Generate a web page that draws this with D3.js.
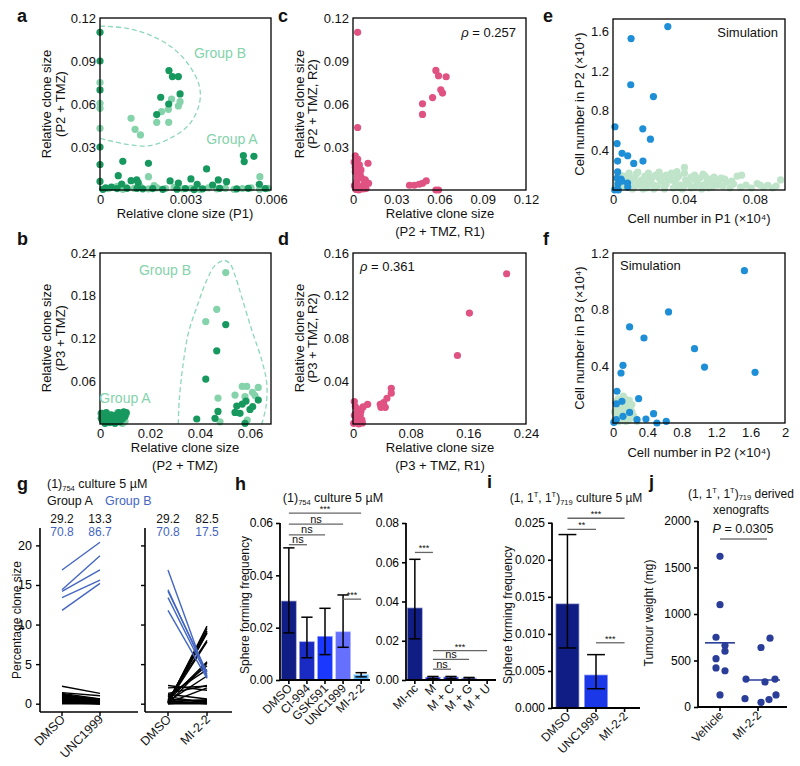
<!DOCTYPE html>
<html><head><meta charset="utf-8">
<script src="https://cdn.jsdelivr.net/npm/d3@7"></script>
<style>body{margin:0;background:#fff}svg{display:block;font-family:"Liberation Sans",Arial,sans-serif}</style>
</head><body><svg id="c" width="800" height="766"></svg>
<script>
// ---------------- DATA ----------------
// panel a (x: relative clone size P1, y: P2+TMZ)
const aDark = [[0,0.110],[0,0.0698],[0,0.0178],[0,0.006],[0,0.030],[0,0.090],
 [0.00242,0.0833],[0.00254,0.0791],[0.00275,0.0791],[0.00281,0.0670],[0.00213,0.0647],[0.00241,0.0600],[0.00199,0.0526],
 [0.00080,0.0200],[0.00170,0.0186],[0.00374,0.0147],[0.00503,0.0240],[0.00540,0.0235],[0.00506,0.0198],[0.00064,0.0100],
 [0.00109,0.0065],[0.00129,0.0070],[0.00134,0.0051],[0.00076,0.0042],[0.00246,0.0063],[0.00275,0.0049],[0.00319,0.0077],
 [0.00341,0.0040],[0.00395,0.0035],[0.00415,0.0070],[0.00444,0.0058],[0.00559,0.0040],[0.0002,0.0015],[0.0006,0.0010],
 [0.00095,0.0012],[0.0015,0.0008],[0.00185,0.0010],[0.0022,0.0005],[0.0030,0.0010],[0.0036,0.0008],[0.0042,0.0012],
 [0.0048,0.0008],[0.0052,0.0012],[0.0058,0.0010],[0.0001,0.0005],[0.0004,0.0020],[0.0013,0.0012],[0.0027,0.0006],[0.0033,0.0003]];
const aLight = [[0,0.0605],[0,0.057],[0,0.043],[0,0.075],
 [0.00251,0.0635],[0.00281,0.0616],[0.00275,0.0586],[0.00216,0.0547],[0.00240,0.0563],[0.00199,0.0472],[0.00241,0.0472],
 [0.00109,0.0500],[0.00123,0.0423],[0.00142,0.0384],[0.0017,0.0093],[0.00561,0.0093],
 [0.0003,0.0010],[0.0006,0.0025],[0.0009,0.0020],[0.0012,0.0012],[0.0014,0.0028],[0.0017,0.0008],[0.0020,0.0015],
 [0.0023,0.0010],[0.0026,0.0018],[0.0029,0.0008],[0.0032,0.0012],[0.0035,0.0005],[0.0038,0.0015],[0.0041,0.0008],
 [0.0044,0.0012],[0.0047,0.0005],[0.0050,0.0010],[0.0053,0.0015],[0.0056,0.0006],[0.0059,0.0012],[0.0008,0.0005],[0.0019,0.0030]];
const aOutline = [[0,0.1144],[0.00094,0.1128],[0.00175,0.1081],[0.00257,0.0988],[0.00316,0.086],[0.00349,0.0721],
 [0.00349,0.0605],[0.00316,0.0465],[0.00257,0.0372],[0.00175,0.0309],[0.00094,0.0319],[0.00023,0.0349],[0,0.036]];
// panel b (x: P2+TMZ, y: P3+TMZ)
const bLight = [[0.0503,0.2125],[0.0467,0.161],[0.0423,0.1438],[0.0472,0.0364],[0.0569,0.0528],[0.0587,0.0528],[0.0633,0.0514],
 [0.0610,0.0444],[0.0540,0.0406],[0.0580,0.0383],[0.0620,0.0400],[0.0589,0.0056],[0.0480,0.0030],
 [0.002,0.008],[0.004,0.012],[0.006,0.005],[0.008,0.010],[0.010,0.004],[0.0105,0.014],[0.001,0.015],[0.003,0.002],[0.007,0.016],[0.009,0.001]];
const bDark = [[0.0503,0.1396],[0.0467,0.1027],[0.0423,0.063],[0.0472,0.0177],[0.046,0.008],[0.0387,0.007],[0.0584,0.0322],
 [0.0569,0.028],[0.0547,0.0252],[0.0633,0.0336],[0.0611,0.0243],[0.0600,0.0205],[0.0540,0.0163],[0.0560,0.0150],[0.0580,0.0010],
 [0.0005,0.015],[0.0015,0.012],[0.0025,0.016],[0.0035,0.010],[0.0045,0.013],[0.0055,0.008],[0.0065,0.012],[0.0075,0.016],
 [0.0085,0.013],[0.0095,0.017],[0.0100,0.011],[0.001,0.005],[0.003,0.007],[0.005,0.004],[0.007,0.006],[0.002,0.001],
 [0.004,0.002],[0.006,0.001],[0.008,0.003],[0.0005,0.008],[0.009,0.007],[0.0105,0.016]];
const bOutline = [[0.0313,0],[0.0317,0.0336],[0.0331,0.080],[0.0353,0.127],[0.0387,0.164],[0.0427,0.2018],[0.046,0.2226],
 [0.0496,0.2296],[0.052,0.225],[0.054,0.2086],[0.0567,0.178],[0.0607,0.132],[0.0647,0.0896],[0.0667,0.057],[0.0664,0.0243],[0.0647,0]];
// panel c
const cPts = [[0.0032,0.110],[0.0032,0.0436],[0.0482,0.0601],[0.0482,0.0527],[0.0552,0.0645],[0.0575,0.0834],[0.0593,0.0797],
 [0.0646,0.079],[0.0609,0.0699],[0.0621,0.0676],[0.0392,0.0033],[0.0425,0.0033],[0.0459,0.004],[0.0482,0.0047],[0.0508,0.0063],
 [0.0575,0],[0.0593,0],[0.0016,0.0238],[0.0032,0.0215],[0.0044,0.0175],[0.0104,0.0186],[0.0016,0.0128],[0.0050,0.0105],
 [0.0062,0.0082],[0.0085,0.0070],[0.0108,0.0047],[0.0025,0.0058],[0.0045,0.0023],[0.0070,0.0007],[0.0010,0.0030],
 [0.0030,0.0090],[0.0008,0.0195],[0.0055,0.0140],[0.0075,0.0040],[0.0020,0.0005],[0.0040,0.0000],[0.0090,0.0010],[0.0015,0.0160]];
// panel d
const dPts = [[0.2132,0.1406],[0.1615,0.1038],[0.1449,0.0641],[0.0531,0.0334],[0.0531,0.0288],[0.0471,0.0241],[0.0425,0.0200],
 [0.0378,0.0184],[0.0448,0.0156],[0.0388,0.0156],[0.0203,0.0184],[0.0018,0.0210],[0.0032,0.0163],[0.0078,0.0131],
 [0.0101,0.0084],[0.0046,0.0053],[0.0065,0.0022],[0.0124,0.0038],[0.0009,0.0006],[0.0040,0.0100],[0.0110,0.0120],
 [0.0140,0.0160],[0.0060,0.0140],[0.0020,0.0080],[0.0130,0.0010],[0.0080,0.0000]];
// panel e (simulation)
const eGreen = [[0.001,0.02],[0.003,0.05],[0.005,0.10],[0.006,0.14],[0.008,0.03],[0.010,0.08],[0.012,0.12],[0.013,0.16],
 [0.015,0.05],[0.016,0.10],[0.018,0.14],[0.019,0.02],[0.021,0.07],[0.022,0.12],[0.024,0.15],[0.025,0.04],[0.027,0.09],
 [0.028,0.13],[0.030,0.06],[0.031,0.11],[0.032,0.15],[0.034,0.02],[0.035,0.08],[0.036,0.12],[0.0361,0.187],[0.038,0.05],
 [0.0403,0.228],[0.0403,0.17],[0.041,0.10],[0.043,0.06],[0.044,0.13],[0.046,0.03],[0.047,0.09],[0.049,0.12],[0.0508,0.16],
 [0.051,0.05],[0.053,0.08],[0.055,0.11],[0.056,0.03],[0.058,0.07],[0.060,0.10],[0.062,0.04],[0.064,0.08],[0.066,0.02],
 [0.068,0.06],[0.0725,0.15],[0.070,0.14],[0.075,0.05],[0.0813,0.065],[0.0873,0.048],[0.0945,0.102],[0.085,0.03],[0.090,0.02],
 [0.004,0.15],[0.009,0.17],[0.014,0.18],[0.020,0.17],[0.026,0.18],[0.033,0.17],[0.002,0.09],[0.007,0.06],[0.011,0.01],
 [0.017,0.01],[0.023,0.01],[0.029,0.01],[0.039,0.01],[0.045,0.12],[0.052,0.14],[0.057,0.13],[0.061,0.12],[0.044,0.02],[0.050,0.01],
 [0.009,0.11],[0.014,0.07],[0.017,0.04],[0.020,0.10],[0.023,0.05],[0.026,0.12],[0.029,0.03],[0.033,0.10],[0.037,0.14],
 [0.040,0.04],[0.042,0.08],[0.048,0.06],[0.054,0.02],[0.059,0.05],[0.063,0.11],[0.067,0.09],[0.072,0.03],[0.078,0.02],
 [0.083,0.05],[0.092,0.04],[0.006,0.04],[0.012,0.03],[0.018,0.08],[0.030,0.15],[0.036,0.03],[0.046,0.15],[0.055,0.06]];
const eBlue = [[0.0309,1.651],[0.0102,1.529],[0.0100,1.063],[0.0228,0.944],[0.0011,0.639],[0.0168,0.618],[0.0211,0.513],
 [0.0023,0.469],[0.0051,0.370],[0.0083,0.346],[0.0026,0.292],[0.0169,0.292],[0.0117,0.268],[0.0026,0.183],[0.0023,0.12],
 [0.0045,0.11],[0.0028,0.06],[0.0082,0.07],[0.0083,0.03],[0.001,0.0],[0.003,0.0],[0.005,0.09]];
// panel f (simulation)
const fGreen = [[0.02,0.02],[0.05,0.05],[0.08,0.10],[0.10,0.16],[0.12,0.19],[0.14,0.17],[0.16,0.14],[0.18,0.12],[0.20,0.10],
 [0.22,0.08],[0.24,0.05],[0.26,0.03],[0.28,0.01],[0.04,0.12],[0.06,0.08],[0.08,0.03],[0.10,0.06],[0.12,0.10],[0.14,0.08],
 [0.16,0.04],[0.18,0.02],[0.20,0.05],[0.02,0.08],[0.03,0.15],[0.06,0.17],[0.09,0.13],[0.13,0.13],[0.15,0.01],[0.11,0.02],
 [0.07,0.01],[0.04,0.01],[0.22,0.13],[0.19,0.16]];
const fBlue = [[1.528,1.075],[1.652,0.358],[1.064,0.395],[0.948,0.525],[0.646,0.784],[0.193,0.678],[0.36,0.6],[0.116,0.407],
 [0.093,0.353],[0.046,0.224],[0.039,0.136],[0.104,0.153],[0.298,0.172],[0.193,0.075],[0.472,0.066],[0.116,0.047],
 [0.279,0.024],[0.383,0.028],[0.619,0.012],[0.511,0],[0.039,0.024],[0.01,0.005]];
// panel g (percentage clone size)
const gBlueDMSO = [16.9,14.4,14.2,13.4,11.8];
const gBlueUNC  = [20.4,18.7,16.9,15.6,15.2];
const gBlueMI   = [3.3,3.7,4.0,3.5,3.2];
const gBlackDMSO_L = [2.2,1.4,1.3,1.2,1.1,1.0,0.9,0.8,0.7,0.6,0.5,0.4,0.3,0.2,0.1,0.05,0.0,1.0,0.8,0.6,0.3];
const gBlackUNC    = [1.3,1.0,0.6,0.4,0.3,0.5,0.2,0.3,0.1,0.2,0.1,0.0,0.1,0.0,0.0,0.05,0.0,0.6,0.4,0.3,0.2];
const gBlackDMSO_R = [0.1,0.2,0.3,0.1,0.5,0.2,0.4,0.0,0.8,1.0,0.3,1.3,2.3,0.1,1.2,0.0,0.6,0.1,0.3,2.0,0.2,0.9,0.0,0.5,0.05];
const gBlackMI     = [9.8,9.5,9.2,8.9,8.0,7.8,5.3,5.1,4.8,4.3,3.5,2.3,1.7,2.0,0.6,0.3,0.2,0.1,0.0,2.2,0.5,0.1,0.0,0.4,9.0];
const gPctA = {left:["29.2","13.3"], right:["29.2","82.5"]};
const gPctB = {left:["70.8","86.7"], right:["70.8","17.5"]};
const gYTicks = [0,5,10,15,20];
// panel h
const hCats1 = ["DMSO","CI-994","GSK591","UNC1999","MI-2-2"];
const hVals1 = [0.0300,0.0145,0.0165,0.0183,0.0019];
const hLo1   = [0.0180,0.0085,0.0097,0.0125,0.0012];
const hHi1   = [0.0505,0.0240,0.0274,0.0325,0.0028];
const hCol1  = ["#0f1d85","#1a2bc4","#1b38ff","#6670ff","#5cb5ff"];
const hBr1 = [["DMSO","CI-994",0.0517,"ns"],["DMSO","GSK591",0.0555,"ns"],["DMSO","UNC1999",0.0596,"ns"],["DMSO","MI-2-2",0.0638,"***"],["UNC1999","MI-2-2",0.0309,"***"]];
const hCats2 = ["MI-nc","M","M + C","M + G","M + U"];
const hVals2 = [0.0365,0.0012,0.0013,0.0008,0];
const hLo2   = [0.0210,0.0008,0.0008,0.0004,0];
const hHi2   = [0.0615,0.0018,0.0018,0.0013,0];
const hCol2  = ["#0f1d85","#1b38ff","#1f3cf0","#6670ff","#6670ff"];
const hBr2 = [["MI-nc","M",0.065,"***"],["M","M + C",0.0055,"ns"],["M","M + G",0.0105,"ns"],["M","M + U",0.0150,"***"]];
// panel i
const iCats = ["DMSO","UNC1999","MI-2-2"];
const iVals = [0.0140,0.0044,0];
const iLo   = [0.0081,0.0026,0];
const iHi   = [0.0234,0.0072,0];
const iCol  = ["#0f1d85","#1b38e8","#1b38e8"];
const iBr = [["DMSO","UNC1999",0.0241,"**"],["DMSO","MI-2-2",0.0256,"***"],["UNC1999","MI-2-2",0.0088,"***"]];
// panel j
const jCats = ["Vehicle","MI-2-2"];
const jVehicle = [1620,1100,750,660,600,520,420,390,130];
const jMI = [740,640,300,300,270,130,90,80,50];
const jMeans = [690,290];

// ---------------- DRAW ----------------
const FONT = '"Liberation Sans", Arial, sans-serif';
const svg = d3.select('#c');
svg.append('rect').attr('width',800).attr('height',766).attr('fill','#fff');
const DG = "#17985e", LG = "#84d3aa", PINK = "#df5282", SB = "#1e8fd6", PG = "#bfe4ca";

function txt(x,y,s,o={}){
  const t = svg.append('text').attr('x',x).attr('y',y).attr('font-size',o.size||13)
    .attr('fill',o.color||'#111').attr('text-anchor',o.anchor||'start').text(s);
  if(o.bold) t.attr('font-weight','bold');
  if(o.rot) t.attr('transform',`rotate(${o.rot},${x},${y})`);
  return t;
}

function scatter(o){
  const x = d3.scaleLinear().domain(o.xd).range([o.L,o.R]);
  const y = d3.scaleLinear().domain(o.yd).range([o.B,o.T]);
  const g = svg.append('g');
  if(o.shape){
    g.append('path').attr('d', d3.line().x(d=>x(d[0])).y(d=>y(d[1])).curve(d3.curveCatmullRom)(o.shape))
     .attr('fill','none').attr('stroke',"#8dd8b8").attr('stroke-width',1.3).attr('stroke-dasharray','5,3');
  }
  o.series.forEach(s=>{
    g.append('g').selectAll('circle').data(s.data).join('circle')
     .attr('cx',d=>x(d[0])).attr('cy',d=>y(d[1])).attr('r',o.rad||3.6).attr('fill',s.color);
  });
  g.append('rect').attr('x',o.L).attr('y',o.T).attr('width',o.R-o.L).attr('height',o.B-o.T)
   .attr('fill','none').attr('stroke','#000').attr('stroke-width',1.3);
  const xa = g.append('g').attr('transform',`translate(0,${o.B})`)
   .call(d3.axisBottom(x).tickValues(o.xt).tickSize(0).tickPadding(5).tickFormat(d=>String(d)));
  const ya = g.append('g').attr('transform',`translate(${o.L},0)`)
   .call(d3.axisLeft(y).tickValues(o.yt).tickSize(0).tickPadding(4).tickFormat(d=>String(d)));
  [xa,ya].forEach(a=>{a.select('.domain').remove(); a.attr('font-size',13).attr('font-family',FONT); a.selectAll('text').attr('fill','#111');});
  return {x,y};
}

// a
scatter({L:100,R:271,T:18,B:190,xd:[0,0.006],yd:[0,0.12],xt:[0,0.003,0.006],yt:[0.03,0.06,0.09,0.12],
  shape:aOutline,series:[{data:aLight,color:LG},{data:aDark,color:DG}]});
txt(51,104,"Relative clone size",{anchor:'middle',rot:-90});
txt(65,104,"(P2 + TMZ)",{anchor:'middle',rot:-90});
txt(185,218,"Relative clone size (P1)",{anchor:'middle'});
txt(220,58,"Group B",{anchor:'middle',color:LG,size:14});
txt(232,144,"Group A",{anchor:'middle',color:LG,size:14});
// b
scatter({L:100,R:271,T:253,B:424,xd:[0,0.0684],yd:[0,0.24],xt:[0,0.02,0.04,0.06],yt:[0.06,0.12,0.18,0.24],
  shape:bOutline,series:[{data:bLight,color:LG},{data:bDark,color:DG}]});
txt(51,338,"Relative clone size",{anchor:'middle',rot:-90});
txt(65,338,"(P3 + TMZ)",{anchor:'middle',rot:-90});
txt(185,452,"Relative clone size",{anchor:'middle'});
txt(185,470,"(P2 + TMZ)",{anchor:'middle'});
txt(165,275,"Group B",{anchor:'middle',color:LG,size:14});
txt(125,403,"Group A",{anchor:'middle',color:LG,size:14});
// c
scatter({L:353,R:526,T:18,B:190,xd:[0,0.12],yd:[0,0.12],xt:[0,0.03,0.06,0.09,0.12],yt:[0.03,0.06,0.09,0.12],
  series:[{data:cPts,color:PINK}]});
txt(304,104,"Relative clone size",{anchor:'middle',rot:-90});
txt(317,104,"(P2 + TMZ, R2)",{anchor:'middle',rot:-90});
txt(440,218,"Relative clone size",{anchor:'middle'});
txt(440,236,"(P2 + TMZ, R1)",{anchor:'middle'});
{const t=txt(516,37,"",{anchor:'end'}); t.append('tspan').attr('font-style','italic').text('ρ'); t.append('tspan').text(' = 0.257');}
// d
scatter({L:353,R:526,T:253,B:424,xd:[0,0.24],yd:[0,0.16],xt:[0,0.08,0.16,0.24],yt:[0.04,0.08,0.12,0.16],
  series:[{data:dPts,color:PINK}]});
txt(304,338,"Relative clone size",{anchor:'middle',rot:-90});
txt(317,338,"(P3 + TMZ, R2)",{anchor:'middle',rot:-90});
txt(440,452,"Relative clone size",{anchor:'middle'});
txt(440,470,"(P3 + TMZ, R1)",{anchor:'middle'});
{const t=txt(360,271,""); t.append('tspan').attr('font-style','italic').text('ρ'); t.append('tspan').text(' = 0.361');}
// e
scatter({L:613,R:785,T:19,B:190,xd:[0,0.097],yd:[0,1.727],xt:[0,0.04,0.08],yt:[0.4,0.8,1.2,1.6],
  series:[{data:eGreen,color:PG},{data:eBlue,color:SB}]});
txt(584,104,"Cell number in P2 (×10⁴)",{anchor:'middle',rot:-90});
txt(699,223,"Cell number in P1 (×10⁴)",{anchor:'middle'});
txt(778,37,"Simulation",{anchor:'end'});
// f
scatter({L:613,R:785,T:253,B:423,xd:[0,2],yd:[0,1.2],xt:[0,0.4,0.8,1.2,1.6,2],yt:[0.4,0.8,1.2],
  series:[{data:fGreen,color:PG},{data:fBlue,color:SB}]});
txt(584,338,"Cell number in P3 (×10⁴)",{anchor:'middle',rot:-90});
txt(699,457,"Cell number in P2 (×10⁴)",{anchor:'middle'});
txt(620,270,"Simulation");

// panel letters
[["a",17,22],["b",17,245],["c",278,22],["d",278,245],["e",543,22],["f",543,245],["g",17,490],["h",235,490],["i",487,488],["j",649,488]]
 .forEach(l=>txt(l[1],l[2],l[0],{bold:true,size:18}));

// ---------- g ----------
const gy = d3.scaleLinear().domain([-1.05,22.2]).range([712,528]);
const GB = "#4466c2";
function gSub(L,R,cats,xr,showLabels,lines){
  const x = d3.scalePoint().domain(cats).range(xr);
  const g = svg.append('g');
  lines.forEach(s=>{
    g.append('g').selectAll('line').data(s.a.map((v,i)=>[v,s.b[i]])).join('line')
     .attr('x1',x(cats[0])).attr('x2',x(cats[1])).attr('y1',d=>gy(d[0])).attr('y2',d=>gy(d[1]))
     .attr('stroke',s.color).attr('stroke-width',1.4);
  });
  const ya = g.append('g').attr('transform',`translate(${L},0)`)
    .call(d3.axisLeft(gy).tickValues(gYTicks).tickSize(4).tickPadding(4).tickFormat(showLabels?d3.format('d'):()=>''));
  ya.select('.domain').remove();
  g.append('line').attr('x1',L).attr('x2',L).attr('y1',528).attr('y2',712).attr('stroke','#000').attr('stroke-width',1.6);
  g.append('line').attr('x1',L).attr('x2',R).attr('y1',712).attr('y2',712).attr('stroke','#000').attr('stroke-width',1.6);
  ya.attr('font-size',12.5).attr('font-family',FONT); ya.selectAll('line').attr('stroke-width',1.4);
  cats.forEach(c=>{
    g.append('line').attr('x1',x(c)).attr('x2',x(c)).attr('y1',712).attr('y2',716).attr('stroke','#000').attr('stroke-width',1.4);
    txt(x(c)+4,720,c,{anchor:'end',rot:-45,size:12.5});
  });
  return x;
}
const gx1 = gSub(40,138,["DMSO","UNC1999"],[62,100],true,
  [{a:gBlackDMSO_L,b:gBlackUNC,color:'#000'},{a:gBlueDMSO,b:gBlueUNC,color:GB}]);
const gx2 = gSub(145,232,["DMSO","MI-2-2"],[168,207],false,
  [{a:gBlackDMSO_R,b:gBlackMI,color:'#000'},{a:gBlueDMSO,b:gBlueMI,color:GB}]);
["DMSO","UNC1999"].forEach((c,i)=>{txt(gx1(c),523,gPctA.left[i],{anchor:'middle',size:12}); txt(gx1(c),536,gPctB.left[i],{anchor:'middle',size:12,color:GB});});
["DMSO","MI-2-2"].forEach((c,i)=>{txt(gx2(c),523,gPctA.right[i],{anchor:'middle',size:12}); txt(gx2(c),536,gPctB.right[i],{anchor:'middle',size:12,color:GB});});
txt(21,620,"Percentage clone size",{anchor:'middle',rot:-90,size:12});
{const t=txt(47,488,"(1)",{size:12.5}); t.append('tspan').attr('font-size',7.5).attr('dy',2.5).text('754'); t.append('tspan').attr('dy',-2.5).text(' culture 5 µM');}
txt(47,505,"Group A",{size:12.5});
txt(105,505,"Group B",{size:12.5,color:GB});

// ---------- bar panels ----------
function barPanel(o){
  const x = d3.scaleBand().domain(o.cats).range([o.L,o.R]).paddingInner(o.pi).paddingOuter(o.po);
  const y = d3.scaleLinear().domain(o.yd).range([o.B,o.T]);
  const g = svg.append('g');
  const bw = x.bandwidth();
  g.append('g').selectAll('rect').data(o.vals).join('rect')
   .attr('x',(d,i)=>x(o.cats[i])).attr('width',bw).attr('y',d=>y(d)).attr('height',d=>o.B-y(d))
   .attr('fill',(d,i)=>o.cols[i]).attr('stroke',(d,i)=>o.cols[i]).attr('stroke-opacity',0.5).attr('stroke-width',1.5);
  o.vals.forEach((v,i)=>{
    if(o.hi[i]<=0) return;
    const cx = x(o.cats[i])+bw/2, cw = bw*0.4;
    g.append('line').attr('x1',cx).attr('x2',cx).attr('y1',y(o.lo[i])).attr('y2',y(o.hi[i])).attr('stroke','#000').attr('stroke-width',1.5);
    [o.lo[i],o.hi[i]].forEach(e=>g.append('line').attr('x1',cx-cw).attr('x2',cx+cw).attr('y1',y(e)).attr('y2',y(e)).attr('stroke','#000').attr('stroke-width',1.5));
  });
  const ya = g.append('g').attr('transform',`translate(${o.L},0)`)
   .call(d3.axisLeft(y).tickValues(o.yt).tickSize(4).tickPadding(3).tickFormat(d3.format(o.fmt)));
  ya.select('.domain').remove(); ya.attr('font-size',12).attr('font-family',FONT); ya.selectAll('line').attr('stroke-width',1.6);
  g.append('line').attr('x1',o.L).attr('x2',o.L).attr('y1',o.T).attr('y2',o.B).attr('stroke','#000').attr('stroke-width',1.8);
  g.append('line').attr('x1',o.L).attr('x2',o.R).attr('y1',o.B).attr('y2',o.B).attr('stroke','#000').attr('stroke-width',1.8);
  o.cats.forEach(c=>{
    const cx = x(c)+bw/2;
    g.append('line').attr('x1',cx).attr('x2',cx).attr('y1',o.B).attr('y2',o.B+4).attr('stroke','#000').attr('stroke-width',1.6);
    txt(cx+4,o.B+9,c,{anchor:'end',rot:-45,size:12});
  });
  (o.br||[]).forEach(b=>{
    const x1 = x(b[0])+bw/2, x2 = x(b[1])+bw/2, yy = y(b[2]);
    g.append('line').attr('x1',x1).attr('x2',x2).attr('y1',yy).attr('y2',yy).attr('stroke','#666').attr('stroke-width',1.3);
    if(b[3]==='ns') txt((x1+x2)/2,yy-1.5,'ns',{anchor:'middle',size:11});
    else txt((x1+x2)/2,yy-1,b[3],{anchor:'middle',size:9});
  });
  return {x,y};
}
barPanel({cats:hCats1,vals:hVals1,lo:hLo1,hi:hHi1,cols:hCol1,br:hBr1,L:280,R:370,T:523,B:680,yd:[0,0.06],yt:[0,0.02,0.04,0.06],fmt:'.2f',pi:0.22,po:0.1});
barPanel({cats:hCats2,vals:hVals2,lo:hLo2,hi:hHi2,cols:hCol2,br:hBr2,L:406,R:496,T:523,B:680,yd:[0,0.08],yt:[0,0.02,0.04,0.06,0.08],fmt:'.2f',pi:0.22,po:0.1});
txt(249,605,"Sphere forming frequency",{anchor:'middle',rot:-90,size:12});
{const t=txt(333,502,"(1)",{size:12.5,anchor:'middle'}); t.append('tspan').attr('font-size',7.5).attr('dy',2.5).text('754'); t.append('tspan').attr('dy',-2.5).text(' culture 5 µM');}

barPanel({cats:iCats,vals:iVals,lo:iLo,hi:iHi,cols:iCol,br:iBr,L:552,R:640,T:522.7,B:708,yd:[0,0.025],yt:[0,0.005,0.010,0.015,0.020,0.025],fmt:'.3f',pi:0.22,po:0.15});
txt(512,615,"Sphere forming frequency",{anchor:'middle',rot:-90,size:12});
{const t=txt(576,502,"(1, 1",{size:12,anchor:'middle'});
 t.append('tspan').attr('font-size',7.5).attr('dy',-5).text('T'); t.append('tspan').attr('dy',5).text(', 1');
 t.append('tspan').attr('font-size',7.5).attr('dy',-5).text('T'); t.append('tspan').attr('dy',5).text(')');
 t.append('tspan').attr('font-size',7.5).attr('dy',2.5).text('719'); t.append('tspan').attr('dy',-2.5).text(' culture 5 µM');}

// ---------- j ----------
{
  const x = d3.scalePoint().domain(jCats).range([720,758]);
  const y = d3.scaleLinear().domain([0,2000]).range([707,521]);
  const JC = "#2a3d98";
  const g = svg.append('g');
  const jitV = [0,0,-4,5,5,-4,-4,5,0], jitM = [12,3,-12,17,7,18,-13,11,3];
  g.selectAll('.v').data(jVehicle).join('circle').attr('cx',(d,i)=>x('Vehicle')+jitV[i]).attr('cy',d=>y(d)).attr('r',3.6).attr('fill',JC);
  g.selectAll('.m').data(jMI).join('circle').attr('cx',(d,i)=>x('MI-2-2')+jitM[i]).attr('cy',d=>y(d)).attr('r',3.6).attr('fill',JC);
  g.append('line').attr('x1',x('Vehicle')-15).attr('x2',x('Vehicle')+15).attr('y1',y(jMeans[0])).attr('y2',y(jMeans[0])).attr('stroke',JC).attr('stroke-width',1.6);
  g.append('line').attr('x1',x('MI-2-2')-15).attr('x2',x('MI-2-2')+22).attr('y1',y(jMeans[1])).attr('y2',y(jMeans[1])).attr('stroke',JC).attr('stroke-width',1.6);
  const ya = g.append('g').attr('transform','translate(698,0)')
   .call(d3.axisLeft(y).tickValues([0,500,1000,1500,2000]).tickSize(4).tickPadding(3).tickFormat(d3.format('d')));
  ya.select('.domain').remove(); ya.attr('font-size',12).attr('font-family',FONT); ya.selectAll('line').attr('stroke-width',1.6);
  g.append('line').attr('x1',698).attr('x2',698).attr('y1',521).attr('y2',707).attr('stroke','#000').attr('stroke-width',1.8);
  g.append('line').attr('x1',698).attr('x2',787).attr('y1',707).attr('y2',707).attr('stroke','#000').attr('stroke-width',1.8);
  jCats.forEach(c=>{
    g.append('line').attr('x1',x(c)).attr('x2',x(c)).attr('y1',707).attr('y2',711).attr('stroke','#000').attr('stroke-width',1.6);
    txt(x(c)+4,716,c,{anchor:'end',rot:-45,size:12});
  });
  g.append('line').attr('x1',720).attr('x2',767).attr('y1',539).attr('y2',539).attr('stroke','#777').attr('stroke-width',1.5);
  const t=txt(743,533,"",{anchor:'middle',size:12.5}); t.append('tspan').attr('font-style','italic').text('P'); t.append('tspan').text(' = 0.0305');
  txt(653,613,"Tumour weight (mg)",{anchor:'middle',rot:-90,size:12});
  const t2=txt(741,498,"(1, 1",{size:12,anchor:'middle'});
  t2.append('tspan').attr('font-size',7.5).attr('dy',-5).text('T'); t2.append('tspan').attr('dy',5).text(', 1');
  t2.append('tspan').attr('font-size',7.5).attr('dy',-5).text('T'); t2.append('tspan').attr('dy',5).text(')');
  t2.append('tspan').attr('font-size',7.5).attr('dy',2).text('719'); t2.append('tspan').attr('dy',-2).text(' derived');
  txt(741,514,"xenografts",{size:12,anchor:'middle'});
}
</script></body></html>
